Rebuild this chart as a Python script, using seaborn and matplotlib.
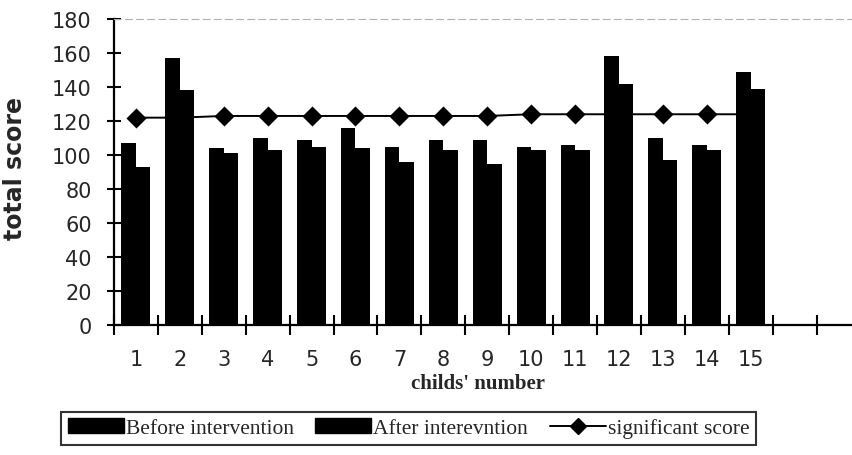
import numpy as np
import pandas as pd
import matplotlib
matplotlib.use("Agg")
import matplotlib.pyplot as plt
import seaborn as sns
from matplotlib.patches import Patch
from matplotlib.lines import Line2D
from matplotlib.ticker import FixedLocator

children = [str(i) for i in range(1, 16)]
before = [107, 157, 104, 110, 109, 116, 105, 109, 109, 105, 106, 158, 110, 106, 149]
after = [93, 138, 101, 103, 105, 104, 96, 103, 95, 103, 103, 142, 97, 103, 139]
significant = [122, 122, 123, 123, 123, 123, 123, 123, 123, 124, 124, 124, 124, 124, 124]
series_names = ["Before intervention", "After interevntion", "significant score"]
y_ticks = list(range(0, 181, 20))

sns.set_style("white")
plt.rcParams['font.family'] = ['DejaVu Sans']

df = pd.DataFrame({
    "child": children * 2,
    "score": before + after,
    "phase": [series_names[0]] * 15 + [series_names[1]] * 15,
})

fig = plt.figure(figsize=(8.53, 4.56), dpi=100)
ax = fig.add_axes([0.1336, 0.285, 0.8664, 0.671])

sns.barplot(data=df, x="child", y="score", hue="phase", order=children,
            palette=["black", "black"], width=0.66, saturation=1,
            edgecolor="black", linewidth=0, legend=False, ax=ax, zorder=3)
sns.pointplot(x=children, y=significant, order=children, color="black",
              markers="D", markersize=9, linewidth=1.4, errorbar=None,
              ax=ax, zorder=2)

ax.set_ylim(0, 180)
ax.set_xlim(-0.5, 16.33)
ax.set_yticks(y_ticks)
ax.set_yticklabels([str(v) for v in y_ticks], fontsize=15)
ax.tick_params(axis='y', direction='inout', length=10, width=1.5, pad=11,
               left=True, color='black')
ax.set_xticks(range(15))
ax.set_xticklabels(children, fontsize=15)
ax.tick_params(axis='x', which='major', length=0, pad=17)
ax.xaxis.set_minor_locator(FixedLocator([k - 0.5 for k in range(0, 18)]))
ax.tick_params(axis='x', which='minor', direction='inout', length=14, width=1.5,
               bottom=True, color='black')

for s in ["left", "bottom"]:
    ax.spines[s].set_color("black")
    ax.spines[s].set_linewidth(1.6)
ax.spines["right"].set_visible(False)
ax.spines["top"].set_color("#b0b0b0")
ax.spines["top"].set_linewidth(0.8)
ax.spines["top"].set_linestyle((0, (6, 4)))

ax.set_ylabel("total score", fontsize=17, fontweight="bold")
ax.yaxis.set_label_coords(-0.117, 0.516)
ax.set_xlabel("childs' number", fontsize=15, fontweight="bold",
              family=["Liberation Serif", "DejaVu Serif"])
ax.xaxis.set_label_coords(0.4926, -0.158)

handles = [Patch(facecolor="black", edgecolor="black"),
           Patch(facecolor="black", edgecolor="black"),
           Line2D([0], [0], color="black", lw=1.4, marker="D", markersize=8)]
leg = fig.legend(handles, series_names, loc="center", ncol=3,
                 bbox_to_anchor=(0.479, 0.059), frameon=True, fancybox=False,
                 handlelength=2.6, handletextpad=0.1, columnspacing=1.0,
                 borderpad=0.3,
                 prop={"family": ["Liberation Serif", "DejaVu Serif"], "size": 15.5})
leg.get_frame().set_edgecolor("black")
leg.get_frame().set_linewidth(1.5)

fig.savefig("out.png", dpi=100)
